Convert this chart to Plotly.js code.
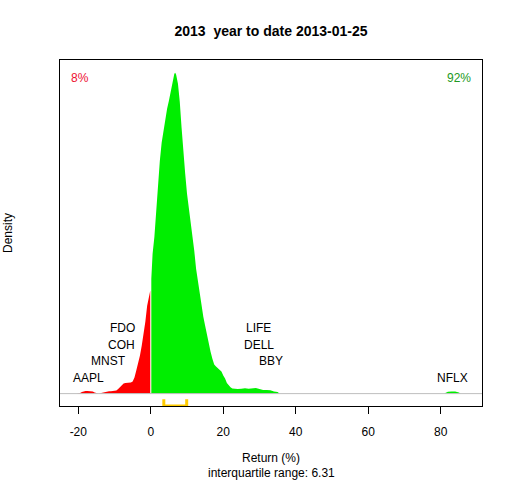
<!DOCTYPE html>
<html>
<head>
<meta charset="utf-8">
<script src="https://cdn.plot.ly/plotly-3.0.1.min.js"></script>
<style>html,body{margin:0;padding:0;background:#fff;}#chart{width:512px;height:480px;}</style>
</head>
<body>
<div id="chart"></div>
<script>
// Density of returns (negative part)
var negX = [-20.5,-20,-19.5,-19,-18.5,-18,-17.5,-17,-16.5,-16,-15.5,-15,-14.5,-14,-13.5,-13,-12.5,-12,-11.5,-11,-10.5,-10,-9.5,-9,-8.5,-8,-7.5,-7,-6.5,-6,-5.5,-5,-4.5,-4,-3.5,-3,-2.5,-2,-1.5,-1,-0.5,-0.15];
var negD = [0,0,0.0005,0.0015,0.0023,0.0025,0.0026,0.0025,0.0023,0.002,0.001,0.0003,0.0002,0.0003,0.0008,0.0015,0.002,0.0022,0.0023,0.0023,0.0024,0.0026,0.0032,0.0045,0.0065,0.0085,0.010,0.0105,0.0107,0.0108,0.011,0.012,0.016,0.023,0.030,0.038,0.048,0.058,0.072,0.088,0.098,0.103];
// Density of returns (positive part)
var posX = [0.15,0.5,1,1.5,2,2.5,3,3.5,4,4.5,5,5.5,6,6.5,6.75,7,7.5,8,8.5,9,9.5,10,10.5,11,11.5,12,12.5,13,13.5,14,14.5,15,15.5,16,16.5,17,17.5,18,18.5,19,19.5,20,20.5,21,21.5,22,22.5,23,24,25,26,27,28,29,30,31,32,33,34,35,35.5];
var posD = [0.115,0.140,0.157,0.183,0.212,0.233,0.251,0.264,0.277,0.285,0.293,0.302,0.313,0.320,0.321,0.319,0.310,0.292,0.266,0.240,0.220,0.200,0.186,0.170,0.160,0.143,0.125,0.112,0.100,0.088,0.077,0.068,0.058,0.050,0.042,0.035,0.029,0.027,0.0255,0.024,0.022,0.018,0.015,0.0105,0.008,0.0063,0.005,0.0047,0.0046,0.0048,0.0053,0.0048,0.005,0.0057,0.0045,0.0035,0.0035,0.0033,0.0022,0.0015,0];
// NFLX bump
var tailX = [81,81.5,82,83,84,85,85.5];
var tailD = [0,0.001,0.0018,0.0022,0.002,0.001,0];
// Stock labels
var stockNames = ["AAPL","MNST","COH","FDO","LIFE","DELL","BBY","NFLX"];
var stockX = [-17.3,-11.8,-8.0,-7.7,29.6,29.8,33.2,83.2];
var stockY = [0.0158,0.0323,0.0488,0.0658,0.0658,0.0488,0.0323,0.0158];
// Interquartile range
var q1 = 3.6, q3 = 9.91;
var iqrText = "interquartile range: 6.31";
var xTicks = [-20,0,20,40,60,80];
var pctNeg = "8%", pctPos = "92%";
var xTitle = "Return (%)";

var font = "Arial, 'Liberation Sans', sans-serif";

var traces = [
  {x: negX, y: negD, type: 'scatter', mode: 'lines', fill: 'tozeroy', fillcolor: '#ff0000', line: {width: 0, color: '#ff0000'}, hoverinfo: 'skip'},
  {x: posX, y: posD, type: 'scatter', mode: 'lines', fill: 'tozeroy', fillcolor: '#00ee00', line: {width: 0, color: '#00ee00'}, hoverinfo: 'skip'},
  {x: tailX, y: tailD, type: 'scatter', mode: 'lines', fill: 'tozeroy', fillcolor: '#00ee00', line: {width: 0, color: '#00ee00'}, hoverinfo: 'skip'},
  {x: [q1, q1, q3, q3], y: [-0.0057, -0.0125, -0.0125, -0.0057], type: 'scatter', mode: 'lines', line: {color: '#ffcc00', width: 3}, cliponaxis: false, hoverinfo: 'skip'}
];

var annotations = stockNames.map(function(n, i) {
  return {x: stockX[i], y: stockY[i], xref: 'x', yref: 'y', text: n, showarrow: false, xanchor: 'center', yanchor: 'middle', font: {family: font, size: 12, color: '#000'}};
});
annotations.push({x: 0.047, y: 0.948, xref: 'paper', yref: 'paper', text: pctNeg, showarrow: false, xanchor: 'center', yanchor: 'middle', font: {family: font, size: 12, color: '#ee1133'}});
annotations.push({x: 0.945, y: 0.948, xref: 'paper', yref: 'paper', text: pctPos, showarrow: false, xanchor: 'center', yanchor: 'middle', font: {family: font, size: 12, color: '#229922'}});
annotations.push({x: 0.5, y: -0.149, xref: 'paper', yref: 'paper', text: xTitle, showarrow: false, xanchor: 'center', yanchor: 'middle', font: {family: font, size: 12, color: '#000'}});
annotations.push({x: 0.5, y: -0.195, xref: 'paper', yref: 'paper', text: iqrText, showarrow: false, xanchor: 'center', yanchor: 'middle', font: {family: font, size: 12, color: '#000'}});

var layout = {
  width: 512, height: 480,
  margin: {l: 60, r: 30, t: 60, b: 74, pad: 0},
  paper_bgcolor: '#fff', plot_bgcolor: '#fff',
  showlegend: false,
  title: {text: '<b>2013\u00a0 year to date 2013-01-25</b>', x: 0.5, xref: 'paper', xanchor: 'center', y: 1 - 31/480, yref: 'container', yanchor: 'middle', font: {family: font, size: 14, color: '#000'}},
  xaxis: {
    range: [-25.05, 91.4], showgrid: false, zeroline: false, layer: 'below traces',
    showline: true, mirror: true, linecolor: '#000', linewidth: 1,
    ticks: 'outside', ticklen: 7, tickwidth: 1, tickcolor: '#000',
    tickvals: xTicks, ticktext: xTicks.map(String), ticklabelstandoff: 8,
    tickfont: {family: font, size: 12, color: '#000'}
  },
  yaxis: {
    range: [-0.0124, 0.3338], showgrid: false, zeroline: false,
    showline: true, mirror: true, linecolor: '#000', linewidth: 1,
    ticks: '', showticklabels: false,
    title: {text: 'Density', font: {family: font, size: 12, color: '#000'}, standoff: 43}
  },
  shapes: [
    {type: 'line', xref: 'paper', yref: 'y', x0: 0, x1: 1, y0: 0, y1: 0, line: {color: '#bebebe', width: 1}}
  ],
  annotations: annotations
};

Plotly.newPlot('chart', traces, layout, {displayModeBar: false, staticPlot: true});
</script>
</body>
</html>
